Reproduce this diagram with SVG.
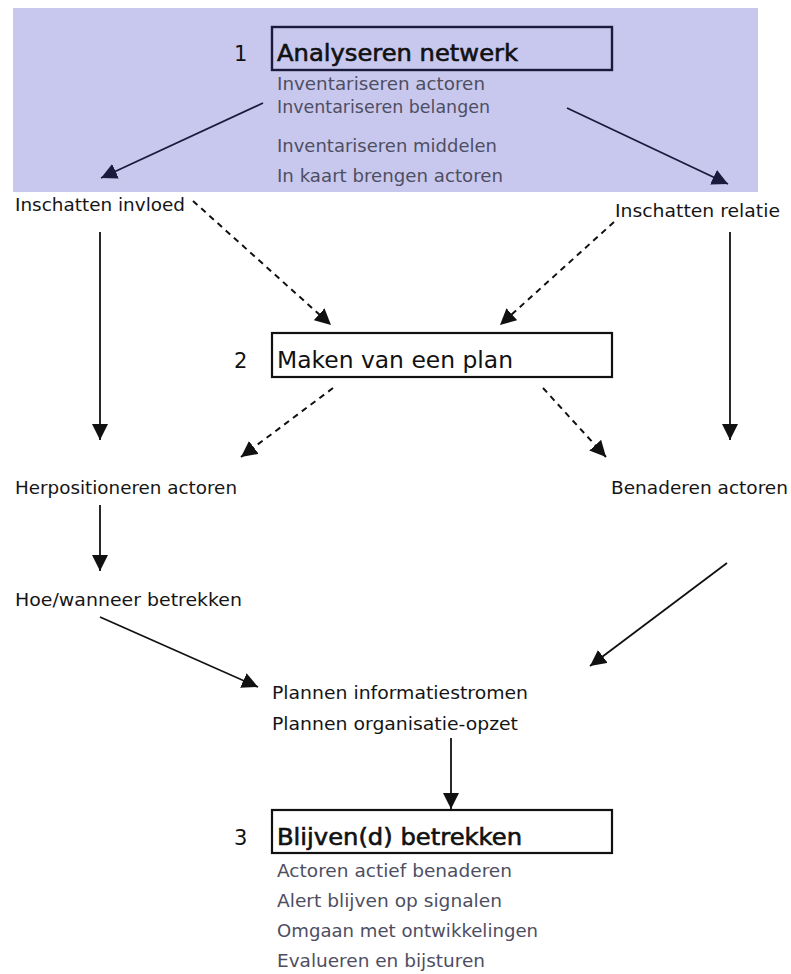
<svg xmlns="http://www.w3.org/2000/svg" width="791" height="974" viewBox="0 0 791 974">
  <style>
    .head { font-family: "DejaVu Sans", "Liberation Sans", sans-serif; font-size: 23px; fill: #111; }
    .strong { stroke: #111; stroke-width: 0.6; }
    .num { font-family: "DejaVu Sans", "Liberation Sans", sans-serif; font-size: 21px; fill: #111; }
    .sub { font-family: "DejaVu Sans", "Liberation Sans", sans-serif; font-size: 17px; fill: #4e4e62; }
    .lbl { font-family: "DejaVu Sans", "Liberation Sans", sans-serif; font-size: 17px; fill: #151515; }
    .box { fill: none; stroke: #111; stroke-width: 2.2; }
    .box1 { fill: none; stroke: #1a1a3c; stroke-width: 2.4; }
    .solid { fill: none; stroke: #111; stroke-width: 1.8; }
    .solidN { fill: none; stroke: #1a1a3c; stroke-width: 1.8; }
    .dash { fill: none; stroke: #111; stroke-width: 2; stroke-dasharray: 6 5; }
  </style>
  <defs>
    <marker id="ah" markerUnits="userSpaceOnUse" markerWidth="17" markerHeight="16" refX="16" refY="8" orient="auto">
      <path d="M0,0 L16,8 L0,16 z" fill="#111"/>
    </marker>
    <marker id="ahN" markerUnits="userSpaceOnUse" markerWidth="17" markerHeight="16" refX="16" refY="8" orient="auto">
      <path d="M0,0 L16,8 L0,16 z" fill="#1a1a3c"/>
    </marker>
  </defs>

  <rect width="791" height="974" fill="#ffffff"/>
  <!-- shaded panel for step 1 -->
  <rect x="13" y="8" width="745" height="184" fill="#c8c8ee"/>

  <g id="step1">
    <rect class="box1" x="272" y="27" width="340" height="43"/>
    <text class="num" x="234" y="61">1</text>
    <text class="head strong" x="277" y="61" textLength="241" lengthAdjust="spacingAndGlyphs">Analyseren netwerk</text>
    <text class="sub" x="277" y="90" textLength="208" lengthAdjust="spacingAndGlyphs">Inventariseren actoren</text>
    <text class="sub" x="277" y="113" textLength="213" lengthAdjust="spacingAndGlyphs">Inventariseren belangen</text>
    <text class="sub" x="277" y="152" textLength="220" lengthAdjust="spacingAndGlyphs">Inventariseren middelen</text>
    <text class="sub" x="277" y="182" textLength="226" lengthAdjust="spacingAndGlyphs">In kaart brengen actoren</text>
  </g>

  <g id="inschatten-invloed">
    <text class="lbl" x="15" y="211" textLength="170" lengthAdjust="spacingAndGlyphs">Inschatten invloed</text>
  </g>
  <g id="inschatten-relatie">
    <text class="lbl" x="615" y="217" textLength="165" lengthAdjust="spacingAndGlyphs">Inschatten relatie</text>
  </g>

  <g id="step2">
    <rect class="box" x="272" y="333" width="340" height="44"/>
    <text class="num" x="234" y="368">2</text>
    <text class="head" x="277" y="368" textLength="236" lengthAdjust="spacingAndGlyphs">Maken van een plan</text>
  </g>

  <g id="herpositioneren">
    <text class="lbl" x="15" y="494" textLength="222" lengthAdjust="spacingAndGlyphs">Herpositioneren actoren</text>
  </g>
  <g id="benaderen">
    <text class="lbl" x="611" y="494" textLength="177" lengthAdjust="spacingAndGlyphs">Benaderen actoren</text>
  </g>
  <g id="hoe-wanneer">
    <text class="lbl" x="15" y="606" textLength="227" lengthAdjust="spacingAndGlyphs">Hoe/wanneer betrekken</text>
  </g>

  <g id="plannen">
    <text class="lbl" x="272" y="699" textLength="256" lengthAdjust="spacingAndGlyphs">Plannen informatiestromen</text>
    <text class="lbl" x="272" y="730" textLength="246" lengthAdjust="spacingAndGlyphs">Plannen organisatie-opzet</text>
  </g>

  <g id="step3">
    <rect class="box" x="272" y="810" width="340" height="43"/>
    <text class="num" x="234" y="845">3</text>
    <text class="head strong" x="277" y="845" textLength="245" lengthAdjust="spacingAndGlyphs">Blijven(d) betrekken</text>
    <text class="sub" x="277" y="877" textLength="235" lengthAdjust="spacingAndGlyphs">Actoren actief benaderen</text>
    <text class="sub" x="277" y="907" textLength="225" lengthAdjust="spacingAndGlyphs">Alert blijven op signalen</text>
    <text class="sub" x="277" y="937" textLength="261" lengthAdjust="spacingAndGlyphs">Omgaan met ontwikkelingen</text>
    <text class="sub" x="277" y="967" textLength="208" lengthAdjust="spacingAndGlyphs">Evalueren en bijsturen</text>
  </g>

  <g id="connectors">
    <line class="solidN" x1="263" y1="103" x2="101" y2="178" marker-end="url(#ahN)"/>
    <line class="solidN" x1="567" y1="108" x2="728" y2="184" marker-end="url(#ahN)"/>
    <line class="dash" x1="193" y1="201" x2="331" y2="325" marker-end="url(#ah)"/>
    <line class="dash" x1="614" y1="222" x2="500" y2="325" marker-end="url(#ah)"/>
    <line class="solid" x1="100" y1="232" x2="100" y2="440" marker-end="url(#ah)"/>
    <line class="solid" x1="730" y1="232" x2="730" y2="440" marker-end="url(#ah)"/>
    <line class="dash" x1="333" y1="388" x2="241" y2="457" marker-end="url(#ah)"/>
    <line class="dash" x1="543" y1="388" x2="606" y2="457" marker-end="url(#ah)"/>
    <line class="solid" x1="100" y1="505" x2="100" y2="571" marker-end="url(#ah)"/>
    <line class="solid" x1="100" y1="617" x2="258" y2="687" marker-end="url(#ah)"/>
    <line class="solid" x1="727" y1="563" x2="590" y2="666" marker-end="url(#ah)"/>
    <line class="solid" x1="451" y1="738" x2="451" y2="809" marker-end="url(#ah)"/>
  </g>
</svg>
